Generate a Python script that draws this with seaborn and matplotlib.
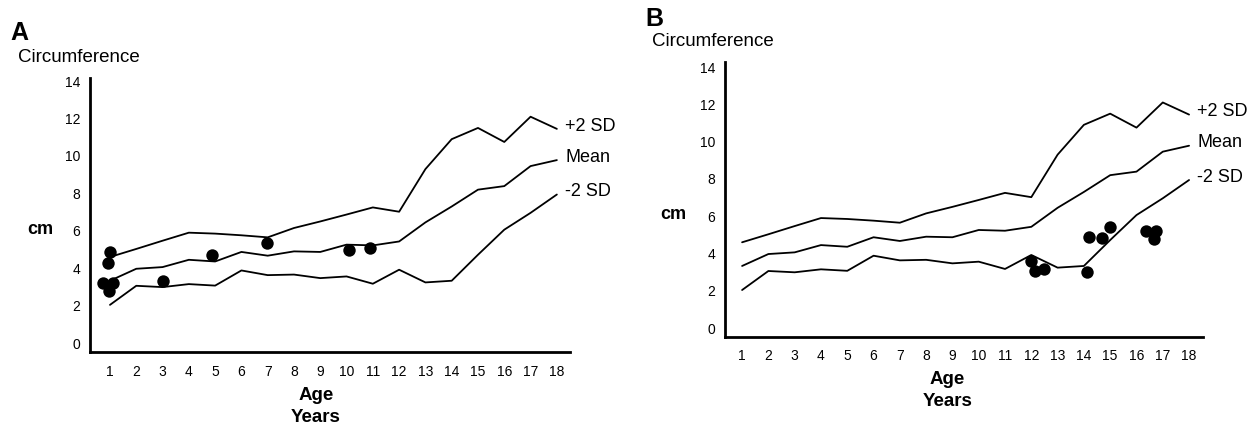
import numpy as np
import pandas as pd
import matplotlib
matplotlib.use("Agg")
import matplotlib.pyplot as plt
import seaborn as sns

# ---------------- data ----------------
ages = list(range(1, 19))
plus2sd = [4.6, 5.03, 5.47, 5.9, 5.85, 5.76, 5.65, 6.15, 6.5, 6.87, 7.25, 7.02,
           9.3, 10.9, 11.5, 10.75, 12.1, 11.45]
mean_v = [3.33, 3.97, 4.06, 4.45, 4.36, 4.87, 4.67, 4.9, 4.87, 5.26, 5.22, 5.43,
          6.45, 7.3, 8.2, 8.39, 9.46, 9.78]
minus2sd = [2.04, 3.06, 2.99, 3.15, 3.07, 3.88, 3.63, 3.66, 3.47, 3.56, 3.17, 3.92,
            3.24, 3.33, 4.72, 6.06, 6.96, 7.94]
curve_names = ["+2 SD", "Mean", "-2 SD"]

a_age = [0.75, 1.13, 0.97, 0.94, 1.0, 3.0, 4.87, 6.98, 10.1, 10.9]
a_cm = [3.22, 3.22, 2.78, 4.26, 4.85, 3.32, 4.7, 5.36, 4.97, 5.06]

b_age = [12.0, 12.14, 12.48, 14.13, 14.2, 14.68, 14.99, 16.35, 16.74, 16.67]
b_cm = [3.59, 3.08, 3.15, 3.02, 4.9, 4.81, 5.4, 5.22, 5.22, 4.76]

x_ticks = list(range(1, 19))
y_ticks = list(range(0, 15, 2))

curves = pd.DataFrame({
    "age": ages * 3,
    "cm": plus2sd + mean_v + minus2sd,
    "curve": sum([[n] * len(ages) for n in curve_names], []),
})

# ---------------- style ----------------
sns.set_style("white")
plt.rcParams["font.family"] = ["Liberation Sans", "DejaVu Sans"]
for k in ["text.color", "axes.labelcolor", "xtick.color", "ytick.color", "axes.edgecolor"]:
    plt.rcParams[k] = "black"

W, H = 1250, 426
fig = plt.figure(figsize=(W / 100, H / 100), dpi=100)


def fx(px):
    return px / W


def fy(py):
    return 1 - py / H


axA = fig.add_axes([fx(90), fy(352), fx(570 - 90), (352 - 78) / H])
axB = fig.add_axes([fx(725), fy(337), fx(1203 - 725), (337 - 62) / H])

panels = [
    (axA, a_age, a_cm, (0.24, 18.5), (-0.48, 14.17)),
    (axB, b_age, b_cm, (0.35, 18.53), (-0.48, 14.27)),
]

for ax, px, py, xl, yl in panels:
    sns.lineplot(data=curves, x="age", y="cm", units="curve", estimator=None,
                 color="black", lw=1.3, ax=ax, legend=False)
    sns.scatterplot(x=px, y=py, color="black", s=80, edgecolor="black",
                    linewidth=0, ax=ax, legend=False, zorder=5)
    ax.set_xlim(*xl)
    ax.set_ylim(*yl)
    ax.set_xticks(x_ticks)
    ax.set_xticklabels([str(t) for t in x_ticks])
    ax.set_yticks(y_ticks)
    ax.set_yticklabels([str(t) for t in y_ticks])
    ax.tick_params(axis="x", length=0, pad=9, labelsize=10, colors="black")
    ax.tick_params(axis="y", length=0, pad=7, labelsize=10, colors="black")
    ax.set_xlabel("")
    ax.set_ylabel("")
    for s in ["top", "right"]:
        ax.spines[s].set_visible(False)
    for s in ["left", "bottom"]:
        ax.spines[s].set_linewidth(2.0)
        ax.spines[s].set_color("black")
    ax.set_facecolor("white")
    for name, vals in zip(curve_names, [plus2sd, mean_v, minus2sd]):
        ax.annotate(name, xy=(ages[-1], vals[-1]), xytext=(6, 2),
                    textcoords="offset points", ha="left", va="center",
                    fontsize=13, color="black", annotation_clip=False)

# ---------------- texts ----------------
fig.text(fx(10), fy(33), "A", fontsize=18, fontweight="bold", ha="left", va="center")
fig.text(fx(18), fy(57), "Circumference", fontsize=13.5, ha="left", va="center")
fig.text(fx(27), fy(230), "cm", fontsize=13, fontweight="bold", ha="left", va="center")
fig.text(fx(316), fy(396), "Age", fontsize=13.5, fontweight="bold", ha="center", va="center")
fig.text(fx(316), fy(418), "Years", fontsize=13.5, fontweight="bold", ha="center", va="center")

fig.text(fx(645), fy(19), "B", fontsize=18, fontweight="bold", ha="left", va="center")
fig.text(fx(652), fy(42), "Circumference", fontsize=13.5, ha="left", va="center")
fig.text(fx(660), fy(215), "cm", fontsize=13, fontweight="bold", ha="left", va="center")
fig.text(fx(947), fy(380), "Age", fontsize=13.5, fontweight="bold", ha="center", va="center")
fig.text(fx(948), fy(402), "Years", fontsize=13.5, fontweight="bold", ha="center", va="center")

fig.savefig("out.png", dpi=100, facecolor="white")
